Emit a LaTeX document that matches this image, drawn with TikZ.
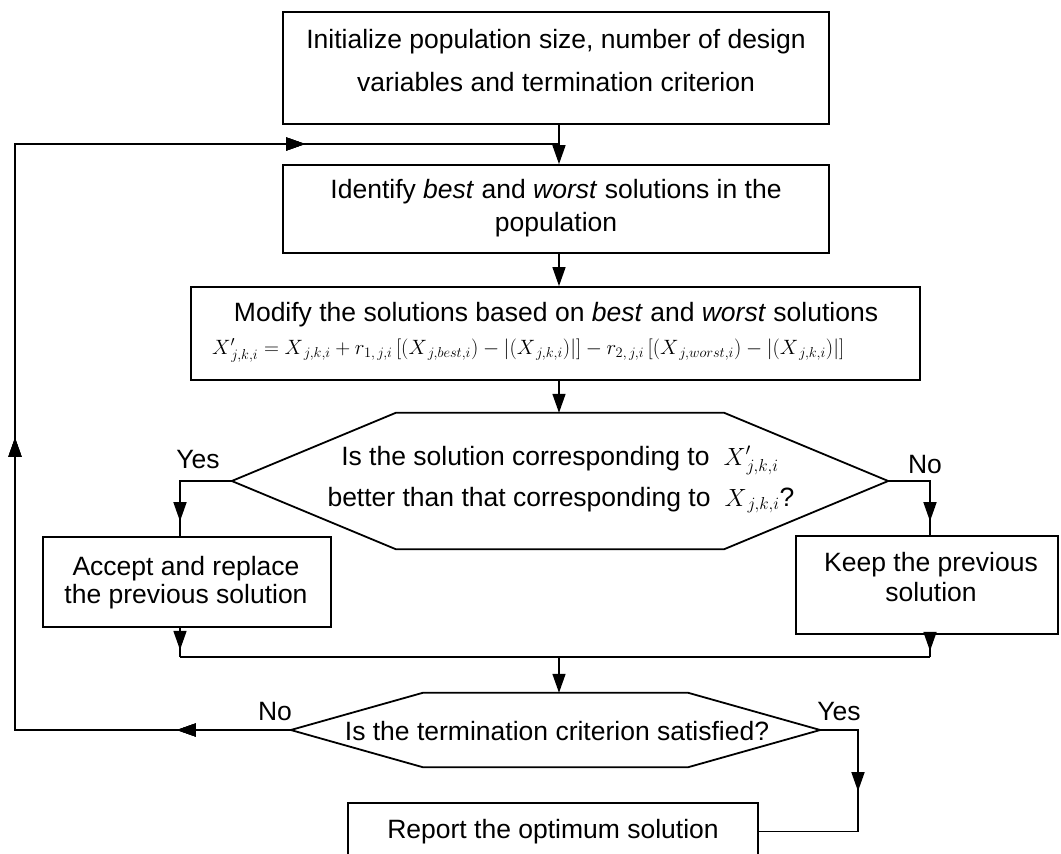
\documentclass[tikz,border=0pt]{standalone}
\usepackage{fontspec}
\setmainfont{Liberation Sans}
\usetikzlibrary{arrows.meta,decorations.markings}

\newcommand{\flowfont}{\fontsize{26.5}{30}\selectfont}
\newcommand{\eqfont}{\fontsize{22}{26}\selectfont}

\tikzset{
  box/.style={draw, rectangle, line width=1.8pt, inner sep=0pt},
  hexfill/.style={draw=none, rectangle, inner sep=0pt},
  hexline/.style={line width=1.8pt, line join=miter},
  conn/.style={line width=1.5pt},
  txt/.style={anchor=base, inner sep=0pt, font=\flowfont},
  midtip/.style={postaction=decorate,
    decoration={markings, mark=at position #1 with {\arrow{>}}}},
}

\begin{document}
\begin{tikzpicture}[x=1pt, y=-1pt, >={Triangle[length=19pt,width=13pt]}]
\useasboundingbox (0,0) rectangle (1061,854);

% main column
\coordinate (ax) at (559,0);

% process boxes
\node[box, minimum width=546pt, minimum height=112pt] (b1) at (556,68) {};
\node[box, minimum width=546pt, minimum height=88pt]  (b2) at (556,209) {};
\node[box, minimum width=729pt, minimum height=93pt]  (b3) at (555.5,333.5) {};
\node[box, minimum width=288pt, minimum height=90pt]  (acc) at (187,582) {};
\node[box, minimum width=262pt, minimum height=98pt]  (keep) at (927,585) {};
\node[box, minimum width=410pt, minimum height=57pt]  (rep) at (553,831.5) {};

% decision hexagons
\node[hexfill, minimum width=656pt, minimum height=136pt] (h1) at (560,481) {};
\draw[hexline] (h1.west) -- ([xshift=164pt]h1.north west) -- ([xshift=-164pt]h1.north east)
  -- (h1.east) -- ([xshift=-164pt]h1.south east) -- ([xshift=164pt]h1.south west) -- cycle;
\node[hexfill, minimum width=529pt, minimum height=74pt] (h2) at (555.5,730) {};
\draw[hexline] (h2.west) -- ([xshift=132pt]h2.north west) -- ([xshift=-132pt]h2.north east)
  -- (h2.east) -- ([xshift=-132pt]h2.south east) -- ([xshift=132pt]h2.south west) -- cycle;

% texts
\node[txt] (t1a) at (556,48) {Initialize population size, number of design};
\node[txt] (t1b) at (556,91) {variables and termination criterion};
\node[txt] (t2a) at (556,198) {Identify \textit{best} and \textit{worst} solutions in the};
\node[txt] (t2b) at (556,231) {population};
\node[txt] (t3a) at (556,321) {Modify the solutions based on \textit{best} and \textit{worst} solutions};
\node[anchor=base west, inner sep=0pt, font=\eqfont] (t3b) at (212,354)
  {$X'_{\,j,k,i}=X_{\,j,k,i}+r_{1,\,j,i}\left[\left(X_{\,j,best,i}\right)-\left|\left(X_{\,j,k,i}\right)\right|\right]-r_{2,\,j,i}\left[\left(X_{\,j,worst,i}\right)-\left|\left(X_{\,j,k,i}\right)\right|\right]$};
\node[txt] (q1a) at (560,465) {Is the solution corresponding to\hspace{14pt}{\fontsize{24}{28}\selectfont$X'_{\,j,k,i}$}};
\node[txt] (q1b) at (561,506) {better than that corresponding to\hspace{14pt}{\fontsize{24}{28}\selectfont$X_{\,j,k,i}$}?};
\node[txt] (acca) at (186,575) {Accept and replace};
\node[txt] (accb) at (186,603) {the previous solution};
\node[txt] (keepa) at (931,571) {Keep the previous};
\node[txt] (keepb) at (931,601) {solution};
\node[txt] (q2) at (557,740) {Is the termination criterion satisfied?};
\node[txt] (rept) at (553,838) {Report the optimum solution};

% branch labels
\node[txt] (yes1) at (198,468) {Yes};
\node[txt] (no1) at (925,473) {No};
\node[txt] (no2) at (275,720) {No};
\node[txt] (yes2) at (839,720) {Yes};

% branch columns and merge level
\coordinate (accx) at (180,0);
\coordinate (keepx) at (930,0);
\coordinate (yesx) at (858,0);
\coordinate (merge) at (0,657);
\coordinate (fbl) at (15,730);
\coordinate (fbt) at (15,144);

% connectors
\draw[conn,->] (b1.south -| ax) -- (b2.north -| ax);
\draw[conn,->] (b2.south -| ax) -- (b3.north -| ax);
\draw[conn,->] (b3.south -| ax) -- (h1.north -| ax);
\draw[conn,midtip=92pt] (h1.west) -- (h1.west -| accx) -- (acc.north -| accx);
\draw[conn,midtip=82pt] (h1.east) -- (h1.east -| keepx) -- (keep.north -| keepx);
\draw[conn,midtip=22pt] (acc.south -| accx) -- (merge -| accx);
\draw[conn,midtip=16pt] (keep.south -| keepx) -- (merge -| keepx);
\draw[conn] (merge -| accx) -- (merge -| keepx);
\draw[conn,->] (merge -| ax) -- (h2.north -| ax);
\draw[conn,midtip=99pt] (h2.east) -- (h2.east -| yesx) |- (rep.east);
\draw[conn,midtip=114pt,midtip=568pt,midtip=1152pt] (h2.west) -- (fbl) -- (fbt) -- (fbt -| ax);

\end{tikzpicture}
\end{document}
